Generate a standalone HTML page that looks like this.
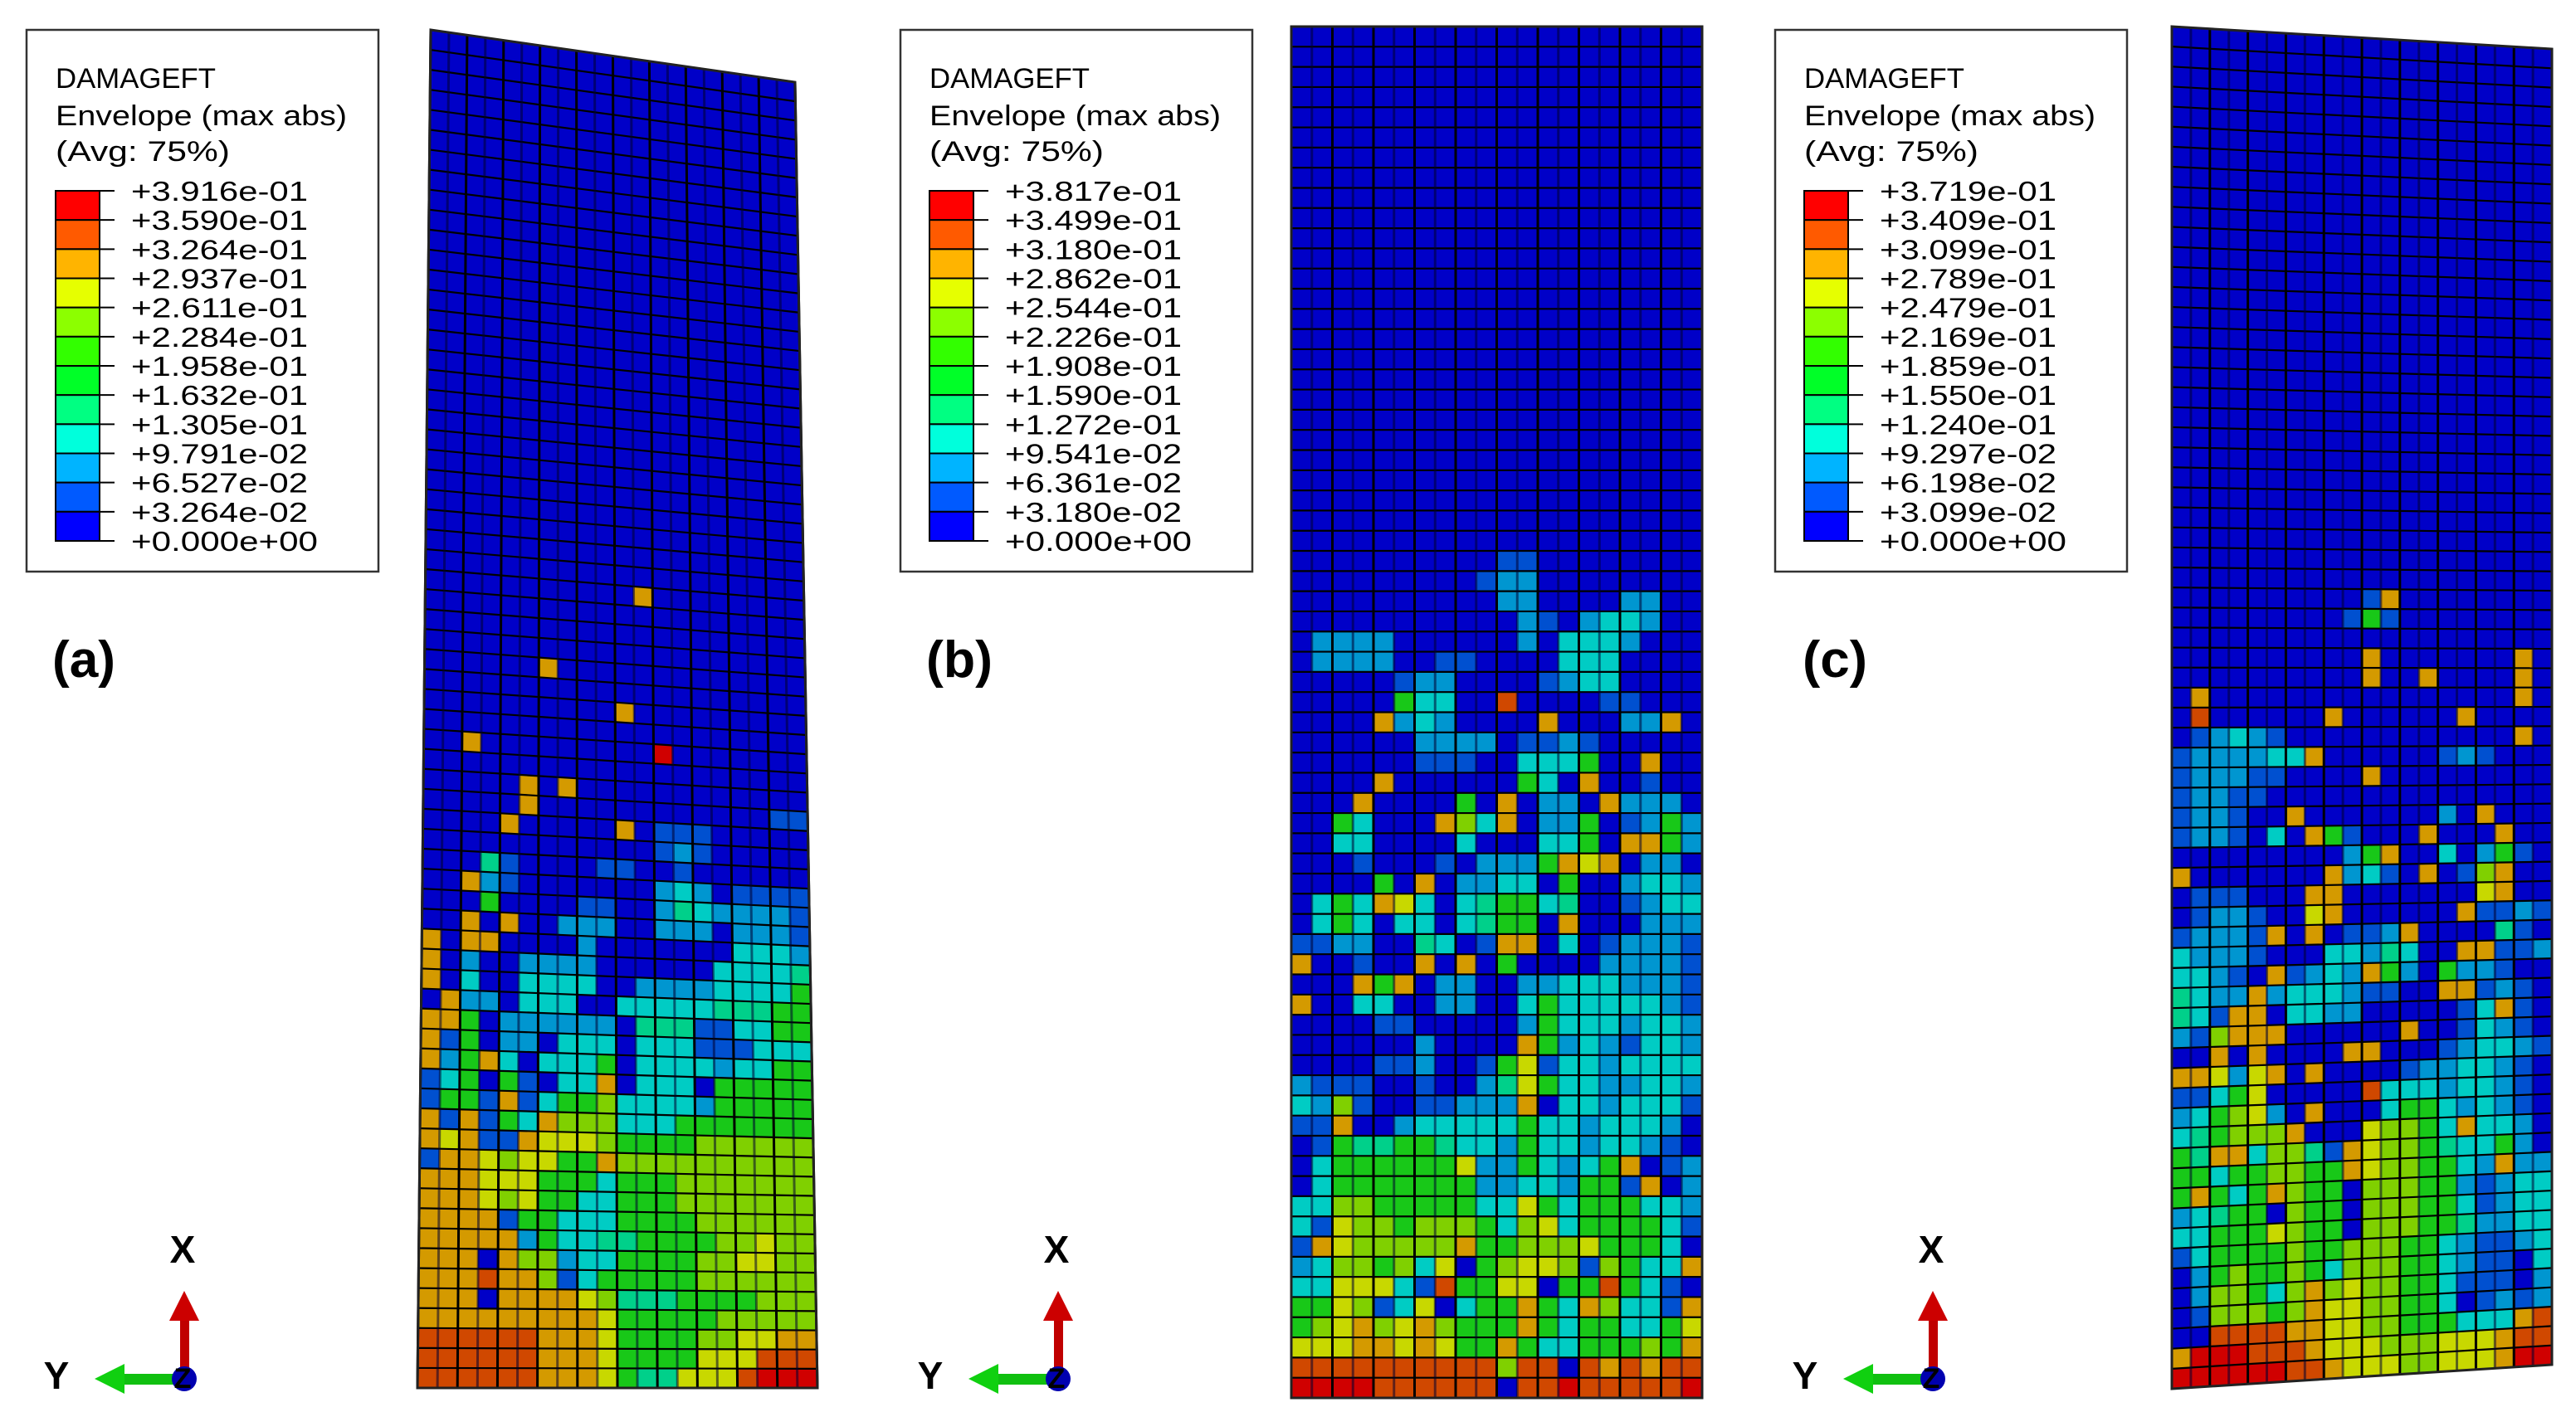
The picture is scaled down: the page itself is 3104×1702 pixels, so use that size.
<!DOCTYPE html>
<html><head><meta charset="utf-8"><title>DAMAGEFT envelope contours</title>
<style>
html,body{margin:0;padding:0;background:#fff;}
svg{display:block;}
text{font-family:"Liberation Sans",sans-serif;}
</style></head>
<body>
<svg id="fig" xmlns="http://www.w3.org/2000/svg" width="3104" height="1702" viewBox="0 0 3104 1702">
<rect x="0" y="0" width="3104" height="1702" fill="#ffffff"/>
<g id="meshes"></g>

<g id="legA">
<rect x="32" y="36" width="424" height="653" fill="#fff" stroke="#333" stroke-width="2.5"/>
<text x="67" y="106" font-size="34" textLength="193" lengthAdjust="spacingAndGlyphs">DAMAGEFT</text>
<text x="67" y="151" font-size="34" textLength="351" lengthAdjust="spacingAndGlyphs">Envelope (max abs)</text>
<text x="67" y="194" font-size="34" textLength="210" lengthAdjust="spacingAndGlyphs">(Avg: 75%)</text>
</g>
<g id="legB">
<rect x="1085" y="36" width="424" height="653" fill="#fff" stroke="#333" stroke-width="2.5"/>
<text x="1120" y="106" font-size="34" textLength="193" lengthAdjust="spacingAndGlyphs">DAMAGEFT</text>
<text x="1120" y="151" font-size="34" textLength="351" lengthAdjust="spacingAndGlyphs">Envelope (max abs)</text>
<text x="1120" y="194" font-size="34" textLength="210" lengthAdjust="spacingAndGlyphs">(Avg: 75%)</text>
</g>
<g id="legC">
<rect x="2139" y="36" width="424" height="653" fill="#fff" stroke="#333" stroke-width="2.5"/>
<text x="2174" y="106" font-size="34" textLength="193" lengthAdjust="spacingAndGlyphs">DAMAGEFT</text>
<text x="2174" y="151" font-size="34" textLength="351" lengthAdjust="spacingAndGlyphs">Envelope (max abs)</text>
<text x="2174" y="194" font-size="34" textLength="210" lengthAdjust="spacingAndGlyphs">(Avg: 75%)</text>
</g>

<text x="63" y="816" font-size="62" font-weight="bold" textLength="76" lengthAdjust="spacingAndGlyphs">(a)</text>
<text x="1116" y="816" font-size="62" font-weight="bold" textLength="80" lengthAdjust="spacingAndGlyphs">(b)</text>
<text x="2172" y="816" font-size="62" font-weight="bold" textLength="78" lengthAdjust="spacingAndGlyphs">(c)</text>
<g id="triads"></g>
</svg>
<script>
// ---- data ----
const legendColors = ['#ff0000','#ff5a00','#ffb400','#e6ff00','#8cff00','#32ff00','#00ff28','#00ff82','#00ffdc','#00b4ff','#005aff','#0000ff'];
const legendA = ['+3.916e-01','+3.590e-01','+3.264e-01','+2.937e-01','+2.611e-01','+2.284e-01','+1.958e-01','+1.632e-01','+1.305e-01','+9.791e-02','+6.527e-02','+3.264e-02','+0.000e+00'];
const legendB = ['+3.817e-01','+3.499e-01','+3.180e-01','+2.862e-01','+2.544e-01','+2.226e-01','+1.908e-01','+1.590e-01','+1.272e-01','+9.541e-02','+6.361e-02','+3.180e-02','+0.000e+00'];
const legendC = ['+3.719e-01','+3.409e-01','+3.099e-01','+2.789e-01','+2.479e-01','+2.169e-01','+1.859e-01','+1.550e-01','+1.240e-01','+9.297e-02','+6.198e-02','+3.099e-02','+0.000e+00'];
// damage level codes per element (0 = undamaged ... R = max)
const levelCodes = ['0','1','2','3','4','5','6','7','o','9','R'];
const levelColors = ['#0000c8','#0050d0','#0096d0','#00ccc4','#00d08a','#18c818','#80d000','#c8d800','#d49a00','#d04800','#d00000'];
const panelAStart = 26;
const panelARows = [
"00000000000000000000","00000000000o00000000","00000000000000000000","00000000000000000000",
"00000000000000000000","000000o0000000000000","00000000000000000000","0000000000o000000000",
"00000000000000000000","00o000000000R0000000","00000000000000000000","00000o0o000000000000",
"00000o00000000000011","0000o00000o011100000","00000000000012100000","00041000011001000000",
"00o21000000023201111","00050000110024322221","00o0o002220022202221","o0oo0000200000003332",
"o0200222200000033334","o0300333300222233335","0o220333003333344455","oo502222220444113355",
"o1502203330333111333","o25o3033350333323355","135051033o0333055555","1551o135563333255555",
"o1o153o6663335555555","o7o11o77765555666666","1oo767755o6666666666","ooo77755535556666666",
"ooo76755335556666666","oooo1553335555666666","ooooo253344555566766","ooo0o662335555667766",
"ooo9oo61355555666666","ooo0oooo764445555666","ooooooooo75555566666","999999ooo755556677oo",
"999999ooo75555777999","999999ooo75447779RRR"];
const panelBStart = 26;
const panelBRows = [
"00000000001100000000","00000000012200000000","00000000002200002200","00000000000210233200",
"02222000000203332000","02222001100003330000","00000122000012330000","00000533009000011000",
"0000o2320000o00022o0","00000022220112100000","00000011100333500o00","0000o000000530o00100",
"000o000050o0220o2220","0053000o63o022501252","0033000030003350oo52","0001000102225o7o0220",
"000050o0223305002332","0353o730345534001233","0353033034550o000222","1122004301oo03012221",
"o00100o0o05000022221","000o5o02200223332221","o0033002200353333321","00001100000253332332",
"00000020000o52321332","00001120015713323333","21110010024753322332","32610011222o03323331",
"11o00233333533233320","01544554332533233210","0355555572253235o012","03555555522332551o02",
"33665555533753555332","31766566653673555531","1o766666o55666755530","2366563705677616533o",
"33777319557705595310","55761370355o53o6331o","567o67o6555o53553357","777oo7o755o53355565o",
"999999999969909o9o99","RRRR999999099R99999R"];
const panelCStart = 27;
const panelCRows = [
"00000000000000000000","00000000001o00000000","00000000015100000000","00000000000000000000",
"0000000000o0000000o0","0000000000o00o0000o0","0o0000000000000000o0","09000000o000000o0000",
"012321000000000000o0","1222233o000000121000","1222110000o000000000","12211000000000000000",
"122100o000000020o000","1221030o51000o000o00","00000000025o00302510","o0000000o2310o016o00",
"0111000oo00000007o00","01221007o000000o1121","12221o0o0112o0000410","322210003324300oo112",
"33210o1232o520522100","4322o233321100oo1210","431oo033220000013o10","216ooo000000o0013210",
"00o0o0000oo000123321","oo727o0o000012233210","11357000009333233210","2356720o000355323210",
"345666o00076653o3320","54oo36641o7665433520","553556655o7665532o22","5o535o65506665521233",
"23455065506665531233","33555765506665542233","13555565566655321123","02565565366655321103",
"0266536o676655311102","0166656o776655301212","009999oo7766555333o9","oRRR999o777666777o99",
"RRRRRR99o77766777oRR"];

// ---- geometry ----
const NS = 'http://www.w3.org/2000/svg';
const NROWS = 68, NCOLS = 20;
const panels = [
  {id:'a', rows:panelARows, start:panelAStart, tl:[519,36], tr:[958,99], br:[985,1673], bl:[503,1673], legend:legendA, lx:32, tx:0},
  {id:'b', rows:panelBRows, start:panelBStart, tl:[1556,32], tr:[2051,32], br:[2051,1685], bl:[1556,1685], legend:legendB, lx:1085, tx:1053},
  {id:'c', rows:panelCRows, start:panelCStart, tl:[2617,32], tr:[3075,59], br:[3075,1645], bl:[2617,1674], legend:legendC, lx:2139, tx:2107}
];
function lerp(a,b,t){return [a[0]+(b[0]-a[0])*t, a[1]+(b[1]-a[1])*t];}
function pt(p,u,v){const top=lerp(p.tl,p.tr,u), bot=lerp(p.bl,p.br,u); return lerp(top,bot,v);}
function fmt(q){return q[0].toFixed(1)+','+q[1].toFixed(1);}
function levelAt(p,r,c){
  if (r < p.start) return 0;
  const row = p.rows[r - p.start];
  if (!row) return 0;
  const i = levelCodes.indexOf(row[c]);
  return i < 0 ? 0 : i;
}
const meshG = document.getElementById('meshes');
panels.forEach(p => {
  const g = document.createElementNS(NS,'g');
  
  
  meshG.appendChild(g);
  for (let r=0;r<NROWS;r++){
    for (let c=0;c<NCOLS;c++){
      const u0=c/NCOLS,u1=(c+1)/NCOLS,v0=r/NROWS,v1=(r+1)/NROWS;
      const poly=document.createElementNS(NS,'polygon');
      poly.setAttribute('points',[pt(p,u0,v0),pt(p,u1,v0),pt(p,u1,v1),pt(p,u0,v1)].map(fmt).join(' '));
      const col=levelColors[levelAt(p,r,c)];
      poly.setAttribute('fill',col);
      poly.setAttribute('stroke',col);
      poly.setAttribute('stroke-width','0.6');
      
      
      g.appendChild(poly);
    }
  }
  // grid lines
  for (let r=0;r<=NROWS;r++){
    const l=document.createElementNS(NS,'line');
    const a=pt(p,0,r/NROWS), b=pt(p,1,r/NROWS);
    l.setAttribute('x1',a[0]);l.setAttribute('y1',a[1]);l.setAttribute('x2',b[0]);l.setAttribute('y2',b[1]);
    l.setAttribute('stroke','#000');l.setAttribute('stroke-width','2.2');
    
    
    g.appendChild(l);
  }
  for (let c=0;c<=NCOLS;c++){
    const l=document.createElementNS(NS,'line');
    const a=pt(p,c/NCOLS,0), b=pt(p,c/NCOLS,1);
    l.setAttribute('x1',a[0]);l.setAttribute('y1',a[1]);l.setAttribute('x2',b[0]);l.setAttribute('y2',b[1]);
    const heavy = (c%2===0);
    l.setAttribute('stroke', heavy ? '#000' : '#000030');
    l.setAttribute('stroke-width', heavy ? '3' : '3');
    l.setAttribute('stroke-opacity', heavy ? '1' : '0.55');
    
    
    g.appendChild(l);
  }
  const out=document.createElementNS(NS,'polygon');
  out.setAttribute('points',[p.tl,p.tr,p.br,p.bl].map(fmt).join(' '));
  out.setAttribute('fill','none');out.setAttribute('stroke','#222');out.setAttribute('stroke-width','3');
  
  
  g.appendChild(out);

  // legend colorbar
  const lg=document.getElementById('leg'+p.id.toUpperCase());
  const bx=p.lx+35, top=230, bh=(652-230)/12;
  legendColors.forEach((colr,i)=>{
    const rc=document.createElementNS(NS,'rect');
    rc.setAttribute('x',bx);rc.setAttribute('y',top+i*bh);rc.setAttribute('width',53);rc.setAttribute('height',bh);
    rc.setAttribute('fill',colr);rc.setAttribute('stroke','#000');rc.setAttribute('stroke-width','2');
    
    
    lg.appendChild(rc);
  });
  p.legend.forEach((lab,i)=>{
    const y=top+i*bh;
    const tk=document.createElementNS(NS,'line');
    tk.setAttribute('x1',bx+53);tk.setAttribute('x2',bx+71);tk.setAttribute('y1',y);tk.setAttribute('y2',y);
    tk.setAttribute('stroke','#000');tk.setAttribute('stroke-width','2');
    
    
    lg.appendChild(tk);
    const t=document.createElementNS(NS,'text');
    t.setAttribute('x',p.lx+126);t.setAttribute('y',y+12);t.setAttribute('font-size','33');
    t.setAttribute('textLength', lab.indexOf('e+')>=0 ? '225' : '213');
    t.setAttribute('lengthAdjust','spacingAndGlyphs');
    t.textContent=lab;
    
    
    lg.appendChild(t);
  });

  // axis triad
  const tg=document.getElementById('triads');
  const ox=222+p.tx, oy=1662;
  const tri=document.createElementNS(NS,'g');
  
  
  tri.innerHTML =
    '<rect x="'+(ox-5)+'" y="'+(oy-72)+'" width="11" height="70" fill="#c00000"/>'+
    '<polygon points="'+(ox-18)+','+(oy-70)+' '+(ox+18)+','+(oy-70)+' '+ox+','+(oy-106)+'" fill="#cc0000"/>'+
    '<rect x="'+(ox-72)+'" y="'+(oy-6)+'" width="60" height="13" fill="#10c010"/>'+
    '<polygon points="'+(ox-72)+','+(oy-18)+' '+(ox-72)+','+(oy+18)+' '+(ox-108)+','+oy+'" fill="#10d010"/>'+
    '<circle cx="'+ox+'" cy="'+oy+'" r="15" fill="#0000b0"/>';
  tg.appendChild(tri);
  const labs=[['X',ox-2,1522,'axis-label-x'],['Y',ox-154,1674,'axis-label-y'],['Z',ox-2,1673,'axis-label-z']];
  labs.forEach(L=>{
    const t=document.createElementNS(NS,'text');
    t.setAttribute('x',L[1]);t.setAttribute('y',L[2]);t.setAttribute('font-size', L[0]==='Z' ? '34' : '46');
    t.setAttribute('font-weight','bold');t.setAttribute('text-anchor','middle');
    t.textContent=L[0];
    
    
    tg.appendChild(t);
  });
});
</script>
</body></html>
